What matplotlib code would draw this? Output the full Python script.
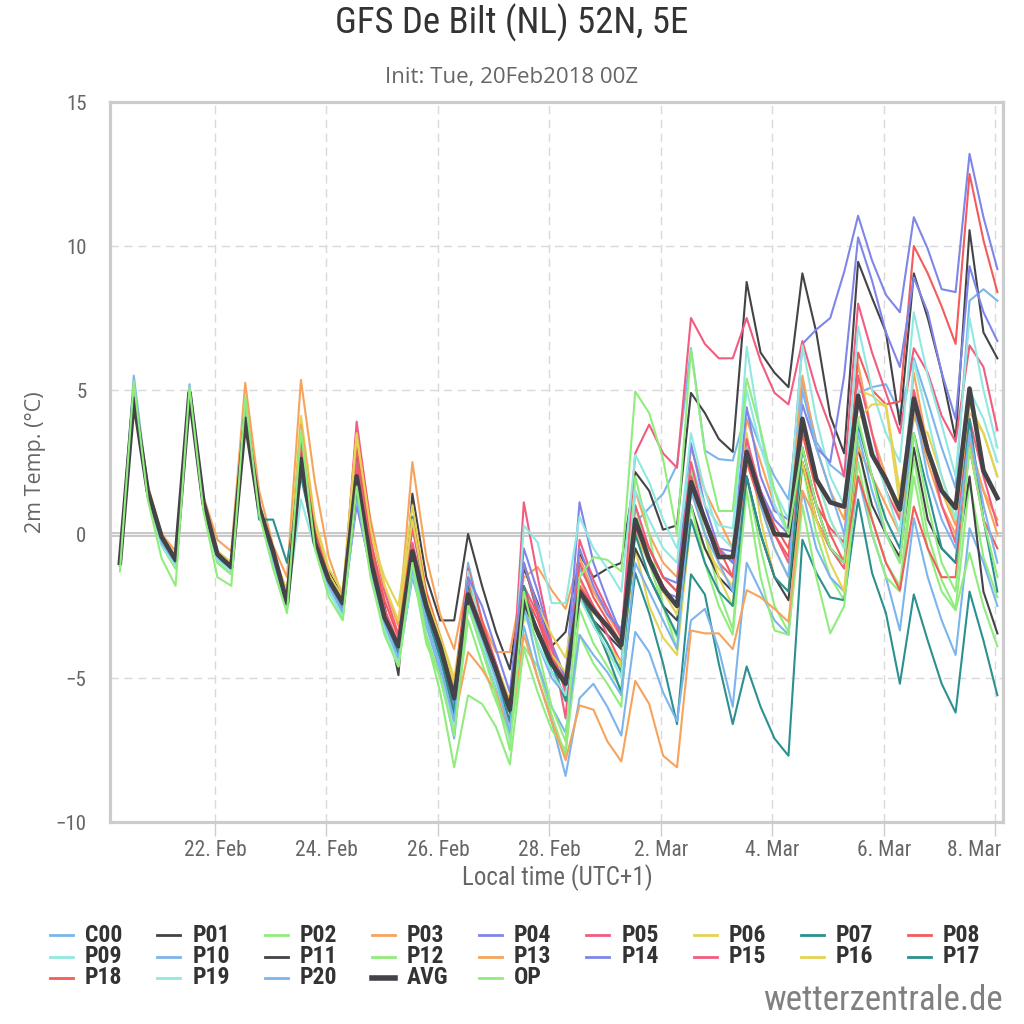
import matplotlib
matplotlib.use("Agg")
import matplotlib.pyplot as plt
import matplotlib.dates as mdates
import pandas as pd
from matplotlib.lines import Line2D
from matplotlib.transforms import ScaledTranslation
from matplotlib import font_manager

# 6-hourly steps, local time (UTC+1), run 20 Feb 2018 00Z
times = pd.date_range("2018-02-20 07:00", periods=64, freq="6h")

names = ["C00", "P01", "P02", "P03", "P04", "P05", "P06", "P07", "P08",
         "P09", "P10", "P11", "P12", "P13", "P14", "P15", "P16", "P17",
         "P18", "P19", "P20", "AVG", "OP"]
colors = ["#7cb5ec", "#434348", "#90ed7d", "#f7a35c", "#8085e9", "#f15c80",
          "#e4d354", "#2b908f", "#f45b5b", "#91e8e1",
          "#7cb5ec", "#434348", "#90ed7d", "#f7a35c", "#8085e9", "#f15c80",
          "#e4d354", "#2b908f", "#f45b5b", "#91e8e1",
          "#7cb5ec", "#434348", "#90ed7d"]

c00 = [-1.0, 5.5, 1.6, -0.2, -0.9, 5.2, 1.2, -0.7, -1.0, 4.7, 0.8, -0.9, -2.4, 2.2, -0.2, -1.8, -2.7,
       1.5, -1.0, -3.0, -4.2, -1.0, -3.0, -4.5, -6.3, -1.0, -3.0, -4.8, -6.6, -2.6, -3.8, -5.0, -5.6, -1.2, -2.0, -2.6, -3.6,
       0.4, 0.9, 1.4, 2.4, 6.45, 2.9, 2.6, 2.55, 4.3, 3.0, 2.0, 1.2, 5.3, 3.2, 2.4, 2.0, 4.9, 5.1, 5.2, 4.2, 6.1, 4.6, 3.0, 1.6, 8.1, 8.5, 8.1]
p01 = [-0.9, 4.9, 1.4, -0.1, -0.9, 4.9, 1.0, -0.7, -1.1, 4.2, 1.0, -0.6, -2.3, 2.9, 0.2, -1.3, -2.2,
       1.8, -0.3, -2.5, -4.9, 1.4, -1.5, -3.0, -3.0, 0.0, -1.8, -3.4, -4.7, -1.2, -2.4, -3.9, -3.4, -0.7, -1.5, -1.2, -1.0,
       2.15, 1.5, 0.15, 0.3, 4.9, 4.2, 3.3, 2.85, 8.75, 6.3, 5.6, 5.1, 9.05, 7.0, 4.1, 2.8, 9.45, 8.2, 7.0, 3.8, 9.05, 7.5, 5.6, 3.3, 10.55, 7.0, 6.1]
p02 = [-1.1, 5.1, 1.3, -0.4, -1.2, 5.0, 0.9, -1.0, -1.4, 4.5, 0.8, -1.0, -2.6, 3.5, -0.2, -1.9, -2.8,
       1.6, -1.2, -3.2, -4.4, -0.9, -3.6, -5.5, -8.1, -5.6, -5.9, -6.7, -8.0, -3.9, -4.6, -6.3, -7.7, -2.6, -3.8, -4.6, -5.4,
       1.0, -1.0, -2.5, -3.6, 2.3, 0.0, -2.0, -3.3, 2.0, -0.5, -2.5, -3.4, 2.4, 0.0, -1.5, -2.3, 3.2, 0.5, -1.0, -1.8, 2.6, 0.0, -1.6, -2.6, 1.8, -0.8, -2.2]
p03 = [-0.9, 5.0, 1.7, 0.0, -0.6, 5.0, 1.3, -0.2, -0.6, 5.25, 1.5, -0.4, -1.5, 5.35, 1.8, -0.8, -2.2,
       3.6, 0.5, -1.8, -3.2, 2.5, -0.8, -2.8, -4.0, -1.5, -3.0, -4.1, -4.1, -1.5, -1.15, -1.95, -2.6, -0.8, -2.0, -2.8, -3.6,
       1.5, 0.0, -1.0, -1.5, 3.0, 1.5, 0.5, -0.5, 4.0, 2.5, 1.0, 0.0, 5.5, 3.0, 1.5, 0.5, 5.9, 3.5, 2.0, 0.5, 5.6, 3.0, 1.5, 0.3, 3.2, 1.5, 0.5]
p04 = [-1.0, 5.2, 1.5, -0.2, -1.0, 5.0, 1.0, -0.8, -1.2, 4.5, 0.9, -0.9, -2.3, 3.0, -0.1, -1.7, -2.5,
       2.0, -1.0, -3.0, -4.0, -0.5, -2.5, -4.0, -5.5, -2.2, -3.3, -4.6, -6.0, -0.5, -2.0, -3.8, -5.0, 1.1, -1.0, -2.3, -3.5,
       0.5, -0.5, -1.5, -1.7, 3.15, 1.0, -0.5, -0.6, 4.4, 2.0, 0.8, 0.5, 6.6, 7.1, 7.5, 9.1, 11.05, 9.5, 8.3, 7.7, 11.0, 9.9, 8.5, 8.4, 13.2, 11.0, 9.2]
p05 = [-1.0, 5.1, 1.6, -0.1, -0.9, 5.0, 1.1, -0.7, -1.1, 4.6, 1.1, -0.7, -2.0, 3.4, 0.3, -1.4, -2.3,
       3.9, 0.3, -2.0, -3.5, 0.2, -2.2, -3.8, -5.8, -1.5, -3.6, -5.2, -6.6, 1.1, -1.5, -3.8, -6.4, -0.2, -1.6, -2.6, -3.6,
       2.8, 3.8, 2.8, 2.3, 7.5, 6.6, 6.1, 6.1, 7.5, 6.0, 4.9, 4.5, 6.7, 5.0, 3.7, 2.0, 8.0, 6.3, 4.9, 3.5, 6.45, 5.6, 4.1, 3.2, 6.55, 5.8, 3.6]
p06 = [-1.0, 5.0, 1.6, 0.0, -0.8, 4.9, 1.1, -0.6, -1.0, 4.4, 1.0, -0.7, -2.0, 4.1, 0.5, -1.2, -2.0,
       3.5, 0.0, -1.5, -2.5, 1.0, -2.0, -3.5, -5.0, -1.8, -3.2, -4.5, -5.8, -3.0, -2.5, -3.5, -4.3, -1.5, -3.0, -4.2, -4.6,
       -0.5, -2.5, -3.6, -4.2, 0.5, -0.5, -1.2, -1.8, 3.5, 0.5, -1.5, -2.0, 3.8, 2.0, 0.5, -0.5, 5.0, 4.8, 4.4, 1.0, 4.0, 3.5, 2.0, 0.5, 4.2, 3.5, 2.0]
p07 = [-1.0, 5.0, 1.5, -0.3, -1.0, 4.9, 0.9, -0.8, -1.2, 4.3, 0.5, 0.5, -1.0, 2.0, -0.2, -1.8, -2.8,
       2.8, -0.8, -3.0, -4.3, 0.6, -2.4, -4.2, -6.5, -1.8, -3.8, -5.2, -7.0, -1.0, -2.8, -4.5, -5.8, -1.8, -3.0, -4.2, -5.5,
       -1.35, -2.75, -4.5, -6.6, -1.4, -2.1, -4.5, -6.6, -4.6, -6.0, -7.1, -7.7, -0.2, -1.35, -2.2, -2.3, 1.2, -1.35, -2.75, -5.2, -2.1, -3.7, -5.2, -6.2, -2.0, -3.7, -5.6]
p08 = [-1.0, 5.1, 1.5, -0.3, -1.1, 5.0, 1.0, -0.8, -1.2, 4.5, 1.0, -0.8, -2.2, 3.3, 0.2, -1.5, -2.3,
       3.0, -0.2, -2.3, -3.6, 0.5, -2.0, -3.6, -5.4, -1.2, -3.0, -4.5, -6.0, -1.0, -2.7, -4.3, -5.3, -1.0, -2.2, -3.0, -3.8,
       0.2, -0.8, -1.8, -2.5, 1.5, 0.5, -0.5, -1.0, 3.0, 1.5, 0.3, -0.5, 2.5, 1.0, 0.2, -0.3, 6.3, 5.0, 4.5, 4.6, 10.0, 9.05, 7.9, 6.6, 12.5, 10.2, 8.4]
p09 = [-1.0, 5.1, 1.4, -0.3, -1.0, 5.0, 0.9, -0.9, -1.2, 4.4, 0.7, -1.0, -2.5, 1.2, -0.5, -2.0, -2.9,
       1.5, -1.2, -3.2, -4.4, -1.5, -3.0, -4.6, -7.0, -1.3, -3.4, -5.0, -7.2, 0.3, -0.3, -2.4, -2.4, 0.6, -0.5, -1.2, -2.0,
       2.75, 1.8, 0.5, -0.5, 2.5, 1.0, 0.3, 0.2, 5.0, 3.0, 1.5, 0.5, 6.55, 4.0, 2.0, 1.0, 7.2, 5.0, 3.5, 2.5, 7.7, 5.5, 3.8, 2.0, 7.5, 5.0, 3.0]
p10 = [-1.1, 5.2, 1.5, -0.3, -1.0, 5.0, 1.0, -0.8, -1.2, 4.5, 0.8, -1.0, -2.6, 2.5, -0.4, -1.9, -2.8,
       1.2, -1.3, -3.2, -4.5, -1.5, -3.2, -4.8, -7.1, -2.5, -4.0, -5.5, -7.0, -3.2, -5.0, -6.5, -8.4, -5.7, -5.2, -6.0, -7.0,
       -3.4, -4.1, -5.5, -6.5, -3.0, -2.6, -4.0, -6.0, -1.0, -2.0, -3.0, -3.5, 1.5, -0.5, -1.5, -2.0, 2.0, 0.0, -1.5, -3.35, 0.55, -1.5, -3.0, -4.2, 0.2, -1.0, -2.5]
p11 = [-1.0, 4.8, 1.3, -0.2, -1.0, 4.9, 0.9, -0.8, -1.2, 4.0, 0.9, -0.8, -2.4, 2.5, -0.3, -1.7, -2.6,
       1.9, -0.9, -2.9, -4.0, -0.8, -2.6, -4.0, -5.8, -2.3, -3.6, -4.9, -6.2, -2.0, -3.5, -4.5, -5.0, -2.2, -3.0, -3.5, -4.0,
       -0.5, -1.5, -2.5, -3.0, 1.0, -0.5, -1.5, -2.0, 2.0, 0.0, -1.5, -2.3, 2.5, 0.5, -0.5, -1.0, 3.0, 1.0, 0.0, -0.8, 3.0, 0.5, -0.5, -1.0, 2.0, -2.0, -3.45]
p12 = [-1.1, 5.0, 1.4, -0.4, -1.2, 4.9, 0.9, -1.0, -1.4, 4.6, 0.8, -1.0, -2.6, 3.6, -0.1, -1.8, -2.8,
       1.7, -1.3, -3.4, -4.6, -1.2, -3.8, -5.0, -6.8, -3.0, -4.5, -5.8, -7.0, -4.0, -5.5, -6.8, -7.5, -3.5, -4.5, -5.2, -6.0,
       2.0, 0.0, -2.5, -4.0, 1.0, -1.0, -2.5, -3.5, 1.5, -1.5, -3.35, -3.5, 1.0, -1.5, -3.45, -2.5, 2.5, 0.0, -1.5, -2.0, 2.0, -0.5, -2.0, -2.65, -0.65, -2.5, -3.9]
p13 = [-1.0, 5.0, 1.6, -0.1, -0.8, 4.9, 1.1, -0.6, -1.0, 4.7, 1.1, -0.7, -2.1, 3.8, 0.3, -1.5, -2.4,
       2.2, -0.5, -2.7, -4.0, -0.7, -3.0, -4.5, -6.5, -4.1, -4.7, -5.5, -6.8, -3.5, -5.0, -6.5, -7.85, -5.95, -6.1, -7.2, -7.9,
       -5.1, -5.9, -7.7, -8.1, -3.35, -3.45, -3.45, -4.0, -1.95, -2.2, -2.6, -3.05, 1.5, 0.5, -0.5, -1.0, 3.0, 2.0, 1.0, 0.0, 4.2, 2.5, 1.0, 0.0, 3.0, 1.5, 0.0]
p14 = [-1.0, 5.1, 1.5, -0.2, -1.0, 5.0, 1.0, -0.8, -1.1, 4.4, 0.9, -0.9, -2.3, 2.8, -0.2, -1.7, -2.6,
       1.0, -1.2, -3.0, -4.0, -1.0, -2.8, -4.3, -6.0, -1.5, -2.5, -4.0, -5.5, -1.0, -2.5, -4.0, -5.0, -0.5, -1.8, -2.8, -3.3,
       0.0, -1.0, -2.0, -2.2, 2.0, 0.5, -0.5, -1.0, 3.0, 1.5, 0.5, 0.0, 4.5, 3.0, 2.5, 5.5, 10.3, 8.8, 7.0, 5.8, 8.9, 7.7, 5.6, 4.0, 9.3, 7.7, 6.7]
p15 = [-1.0, 5.0, 1.5, -0.2, -0.9, 5.0, 1.0, -0.7, -1.1, 4.5, 1.0, -0.8, -2.1, 3.0, 0.1, -1.4, -2.4,
       2.5, -0.5, -2.6, -3.8, -0.3, -2.3, -3.8, -5.5, -2.0, -3.2, -4.5, -6.0, -1.8, -2.8, -4.0, -5.5, -1.5, -2.5, -3.5, -4.5,
       1.0, -0.5, -1.5, -2.0, 2.5, 0.5, -1.0, -1.5, 3.3, 1.5, 0.0, -1.0, 3.0, 1.0, -0.5, -1.2, 5.5, 3.5, 1.5, 0.5, 5.0, 3.0, 1.0, -0.3, 4.0, 2.0, 0.3]
p16 = [-1.0, 5.1, 1.6, -0.1, -0.8, 5.0, 1.1, -0.6, -1.0, 4.6, 1.0, -0.7, -2.0, 3.5, 0.3, -1.4, -2.2,
       3.4, 0.2, -1.8, -3.0, 0.5, -2.2, -3.6, -5.2, -2.0, -3.4, -4.6, -5.8, -2.5, -3.4, -4.2, -4.8, -2.0, -3.0, -3.8, -4.5,
       0.0, -1.0, -2.0, -2.8, 1.5, 0.0, -1.5, -2.5, 3.0, 1.0, -0.5, -1.5, 2.5, 0.5, -1.0, -2.0, 4.0, 4.5, 4.5, 1.5, 4.5, 3.0, 1.5, 0.5, 4.5, 3.5, 2.0]
p17 = [-1.0, 5.0, 1.4, -0.3, -1.0, 4.9, 0.9, -0.8, -1.2, 4.4, 0.8, -0.9, -2.4, 2.8, -0.3, -1.8, -2.7,
       2.0, -0.9, -3.0, -4.2, -0.8, -2.8, -4.3, -6.2, -2.0, -3.6, -5.0, -6.5, -1.8, -3.4, -4.8, -5.6, -2.0, -3.0, -3.8, -4.8,
       0.0, -1.5, -2.5, -3.5, 0.5, -1.0, -2.0, -2.5, 2.0, 0.0, -1.5, -2.0, 3.0, 1.0, -0.5, -1.0, 3.8, 2.0, 0.5, -0.5, 3.5, 1.5, -0.5, -1.0, 4.0, 0.5, -2.0]
p18 = [-1.0, 5.1, 1.5, -0.2, -1.0, 5.0, 1.0, -0.7, -1.1, 4.5, 1.0, -0.8, -2.2, 3.2, 0.1, -1.5, -2.4,
       2.2, -0.6, -2.7, -3.9, -0.5, -2.5, -3.9, -5.6, -2.0, -3.2, -4.6, -5.9, -2.0, -3.0, -4.3, -5.1, -1.8, -2.5, -3.2, -3.9,
       0.5, -0.5, -1.5, -2.0, 2.0, 0.5, -0.5, -1.5, 2.5, 1.0, 0.0, -0.8, 3.5, 1.5, 0.0, -1.0, 2.0, 0.5, -1.0, -1.95, 0.95, -0.5, -1.5, -1.5, 3.0, 0.5, -0.5]
p19 = [-1.1, 5.0, 1.4, -0.4, -1.1, 4.9, 0.9, -0.9, -1.3, 4.4, 0.8, -1.0, -2.6, 2.5, -0.4, -1.9, -2.9,
       1.4, -1.3, -3.3, -4.5, -1.3, -3.0, -4.6, -6.8, -2.5, -3.8, -5.2, -6.8, -2.8, -3.8, -4.8, -5.6, -2.2, -3.2, -4.0, -5.0,
       1.5, 0.5, -0.5, -1.0, 3.5, 1.5, 0.0, -0.5, 6.5, 3.5, 1.0, 0.0, 4.0, 2.0, 0.5, -0.5, 5.0, 3.0, 1.5, 0.0, 6.0, 4.0, 2.0, 0.5, 5.0, 4.0, 2.5]
p20 = [-1.0, 5.2, 1.5, -0.3, -1.0, 5.1, 1.0, -0.8, -1.1, 4.5, 0.9, -0.9, -2.4, 2.6, -0.3, -1.8, -2.7,
       1.3, -1.2, -3.1, -4.3, -1.2, -3.0, -4.6, -6.5, -2.3, -3.6, -5.0, -6.9, -2.4, -4.5, -6.0, -6.9, -3.5, -4.2, -4.8, -5.6,
       -1.0, -2.0, -3.0, -4.0, 1.5, 0.0, -1.0, -2.0, 3.0, 1.0, -0.5, -1.5, 5.0, 3.0, 1.5, 0.0, 3.5, 1.5, 0.0, -1.0, 4.5, 2.0, 0.5, -0.5, 3.5, 1.0, -1.0]
avg = [-1.0, 4.7, 1.5, -0.1, -0.9, 4.9, 1.1, -0.7, -1.15, 4.0, 0.9, -0.6, -2.4, 2.6, -0.3, -1.6, -2.4,
       2.0, -0.9, -2.9, -3.9, -0.6, -2.5, -3.9, -5.7, -2.1, -3.4, -4.7, -6.1, -2.3, -3.4, -4.5, -5.2, -2.0, -2.65, -3.2, -3.85,
       0.5, -0.9, -1.9, -2.5, 1.8, 0.5, -0.8, -0.8, 2.85, 1.3, 0.0, -0.05, 4.0, 1.9, 1.1, 0.95, 4.8, 2.75, 1.9, 0.85, 4.7, 2.9, 1.5, 0.9, 5.05, 2.2, 1.25]
op = [-1.3, 5.3, 1.2, -0.85, -1.8, 5.1, 0.8, -1.5, -1.8, 4.75, 0.7, -1.2, -2.75, 3.6, -0.5, -2.2, -3.0,
      1.65, -1.5, -3.5, -4.6, -1.0, -3.5, -5.0, -7.0, -2.5, -4.0, -5.6, -7.5, -2.0, -4.0, -6.0, -7.2, -1.5, -0.8, -0.9, -1.3,
      4.95, 4.2, 2.6, 0.0, 6.4, 2.85, 0.8, 0.8, 5.4, 3.6, 1.5, 0.0, 3.0, 1.0, -0.5, -1.0, 4.0, 2.0, 0.0, -1.0, 3.5, 1.0, -1.0, -2.0, 3.0, 0.5, -1.5]

series = [c00, p01, p02, p03, p04, p05, p06, p07, p08, p09, p10, p11, p12,
          p13, p14, p15, p16, p17, p18, p19, p20, avg, op]
for nm, s in zip(names, series):
    assert len(s) == len(times), nm

tick_days = pd.date_range("2018-02-22", "2018-03-08", freq="2D")


def pick_narrow():
    # a narrow face like the site's; fall back to whatever condensed face exists
    entries = font_manager.fontManager.ttflist
    installed = {f.name for f in entries}
    for fam in ["Liberation Sans Narrow", "Roboto Condensed", "Open Sans Condensed",
                "Noto Sans Condensed", "DejaVu Sans Condensed"]:
        if fam in installed:
            return fam, "normal"
    for fam in ["DejaVu Sans", "Noto Sans", "Open Sans", "Roboto", "Liberation Sans"]:
        for f in entries:
            if f.name == fam and str(f.stretch) in ("condensed", "semi-condensed"):
                return fam, str(f.stretch)
    return "Roboto", "normal"


narrow, stretch = pick_narrow()
installed = {f.name for f in font_manager.fontManager.ttflist}
plain = "Open Sans" if "Open Sans" in installed else "DejaVu Sans"
plt.rcParams["font.family"] = [narrow, "DejaVu Sans"]
plt.rcParams["font.stretch"] = stretch
plt.rcParams["axes.unicode_minus"] = True

W = H = 1024
fig = plt.figure(figsize=(W / 100, H / 100), dpi=100)
fig.patch.set_facecolor("white")


def fx(x):
    return x / W


def fy(y):
    return 1 - y / H


ax = fig.add_axes([fx(110), fy(822), fx(1003) - fx(110), fy(102) - fy(822)])

ax.set_ylim(-10, 15)
ax.set_yticks([-10, -5, 0, 5, 10, 15])
ax.set_xlim(pd.Timestamp("2018-02-20 02:45"), pd.Timestamp("2018-03-08 03:25"))
ax.set_xticks(tick_days)
ax.xaxis.set_major_formatter(mdates.DateFormatter("%-d. %b"))

ax.grid(True, color="#d9d9d9", linestyle=(0, (6, 4)), linewidth=1.0)
ax.set_axisbelow(True)
ax.axhline(0, color="#c2c2c2", lw=3.4, zorder=1.5)
ax.axhline(0, color="#f4f4f4", lw=0.9, zorder=1.6)

for nm, s, c in zip(names, series, colors):
    lw = 3.3 if nm == "AVG" else 1.5
    ax.plot(times, s, color=c, lw=lw, solid_joinstyle="round", zorder=2)

for sp in ax.spines.values():
    sp.set_color("#cccccc")
    sp.set_linewidth(2.3)

ax.tick_params(axis="x", length=10, width=1, color="#cccccc", pad=3,
               labelsize=15.5, labelcolor="#666666")
ax.tick_params(axis="y", length=0, pad=17, labelsize=15, labelcolor="#666666")

# last date label sits inside the plot edge, as in the original
last = ax.get_xticklabels()[-1]
last.set_transform(last.get_transform() + ScaledTranslation(-0.21, 0, fig.dpi_scale_trans))

fig.text(fx(512), fy(23), "GFS De Bilt (NL) 52N, 5E", ha="center", va="center",
         fontsize=26.5, color="#333333")
fig.text(fx(512), fy(77), "Init: Tue, 20Feb2018 00Z", ha="center", va="center",
         fontsize=16, color="#666666", family=[plain, "DejaVu Sans"], stretch="normal")
fig.text(fx(557), fy(878), "Local time (UTC+1)", ha="center", va="center",
         fontsize=18, color="#666666")
fig.text(fx(35), fy(462), "2m Temp. (\u00b0C)", ha="center", va="center",
         rotation=90, fontsize=15.5, color="#666666", family=[plain, "DejaVu Sans"],
         stretch="normal")

# legend, row by row as drawn in the original
for k, (nm, c) in enumerate(zip(names, colors)):
    row, col = divmod(k, 9)
    x0 = 50 + col * 107.25
    y0 = 935 + row * 21.5
    lw = 4.0 if nm == "AVG" else 2.0
    fig.add_artist(Line2D([fx(x0), fx(x0 + 23)], [fy(y0), fy(y0)], color=c, lw=lw,
                          transform=fig.transFigure))
    fig.text(fx(x0 + 35), fy(y0), nm, ha="left", va="center", fontsize=17,
             fontweight="bold", color="#333333")

fig.text(fx(1003), fy(1001), "wetterzentrale.de", ha="right", va="center",
         fontsize=25, color="#808080")

fig.savefig("out.png", dpi=100, facecolor="white")
